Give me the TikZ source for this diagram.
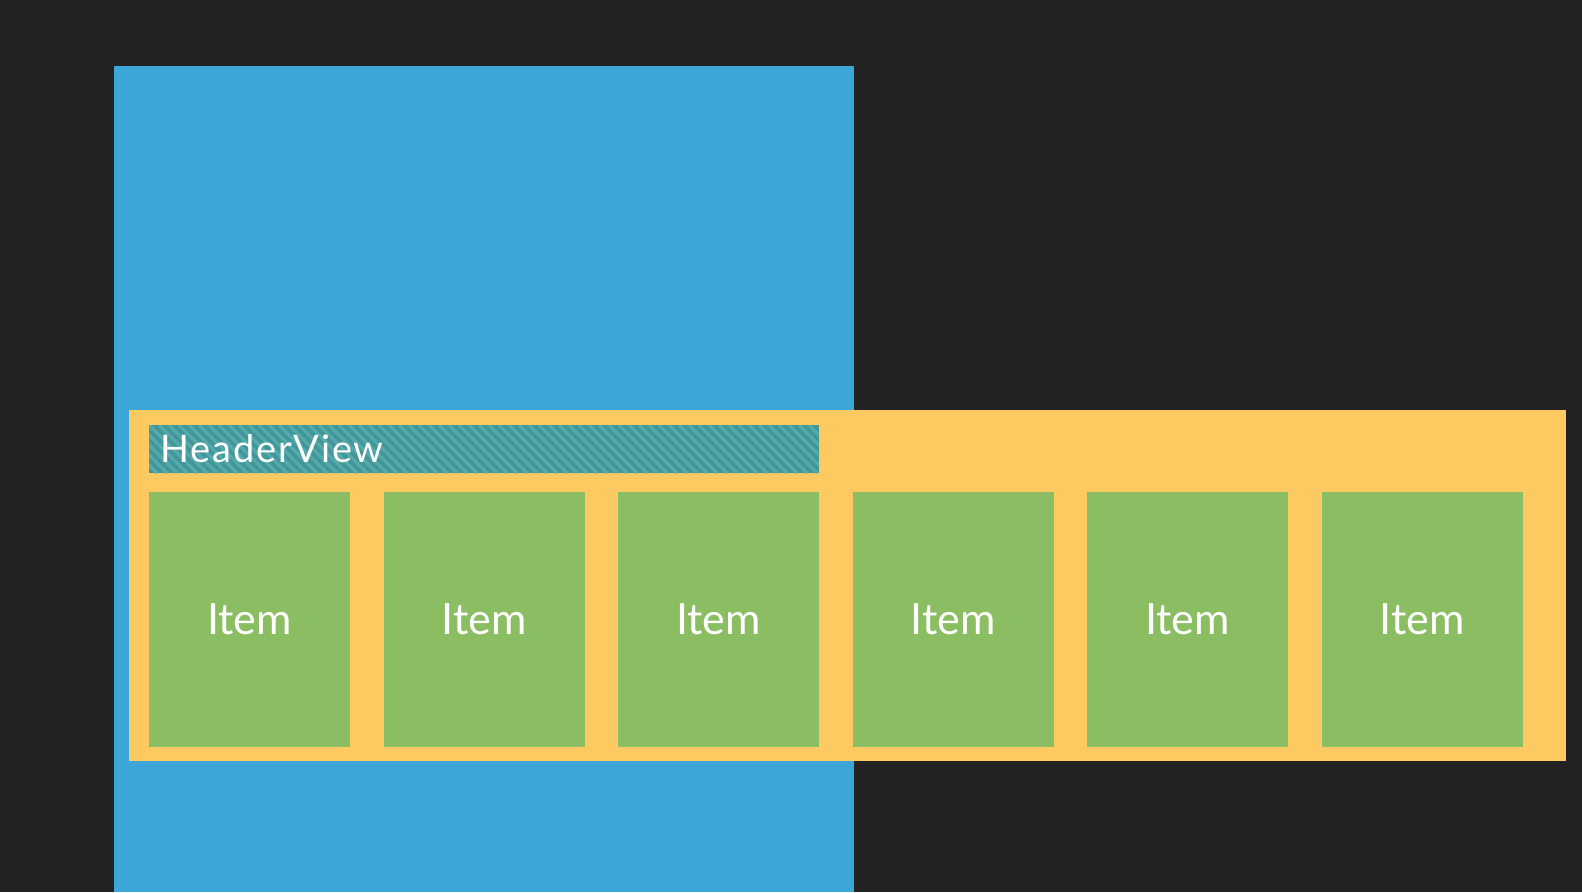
\documentclass[tikz,border=0pt]{standalone}
\usepackage{fontspec}
\setmainfont{Lato}
\definecolor{bgdark}{HTML}{222222}
\definecolor{viewblue}{HTML}{3BA6D7}
\definecolor{sectionorange}{HTML}{FDCA62}
\definecolor{itemgreen}{HTML}{8BBE63}
\definecolor{headerteal}{HTML}{41979A}
\definecolor{headerstripe}{HTML}{56AAAA}
\tikzset{
  box/.style={rectangle, inner sep=0pt, outer sep=0pt, anchor=north west},
  itembox/.style={box, fill=itemgreen, minimum width=201pt, minimum height=255pt,
    text=white, font=\fontsize{43}{43}\selectfont}
}

\begin{document}
\begin{tikzpicture}[x=1pt,y=-1pt]
  \fill[bgdark] (0,0) rectangle (1582,892);
  \useasboundingbox (0,0) rectangle (1582,892);
  \node[box, fill=viewblue, minimum width=740pt, minimum height=826pt] (collection) at (114,66) {};
  \node[box, fill=sectionorange, minimum width=1437pt, minimum height=351pt] (section) at (129,410) {};
  \node[box, fill=headerteal, minimum width=670pt, minimum height=48pt] (header) at (149,425) {};
  \begin{scope}
    \clip (header.north west) rectangle (header.south east);
    \foreach \i in {0,...,75}
      \draw[headerstripe, line width=3pt] (99+\i*10,425) -- (147+\i*10,473);
  \end{scope}
  \node[anchor=west, text=white, inner sep=0pt,
    font=\fontsize{38}{38}\selectfont\addfontfeature{LetterSpace=5}] (headerlabel) at (160,449) {HeaderView};
  \foreach \n/\x in {1/149, 2/383.5, 3/618, 4/852.5, 5/1087, 6/1321.5}
    \node[itembox] (item\n) at (\x,492) {Item};
\end{tikzpicture}
\end{document}
